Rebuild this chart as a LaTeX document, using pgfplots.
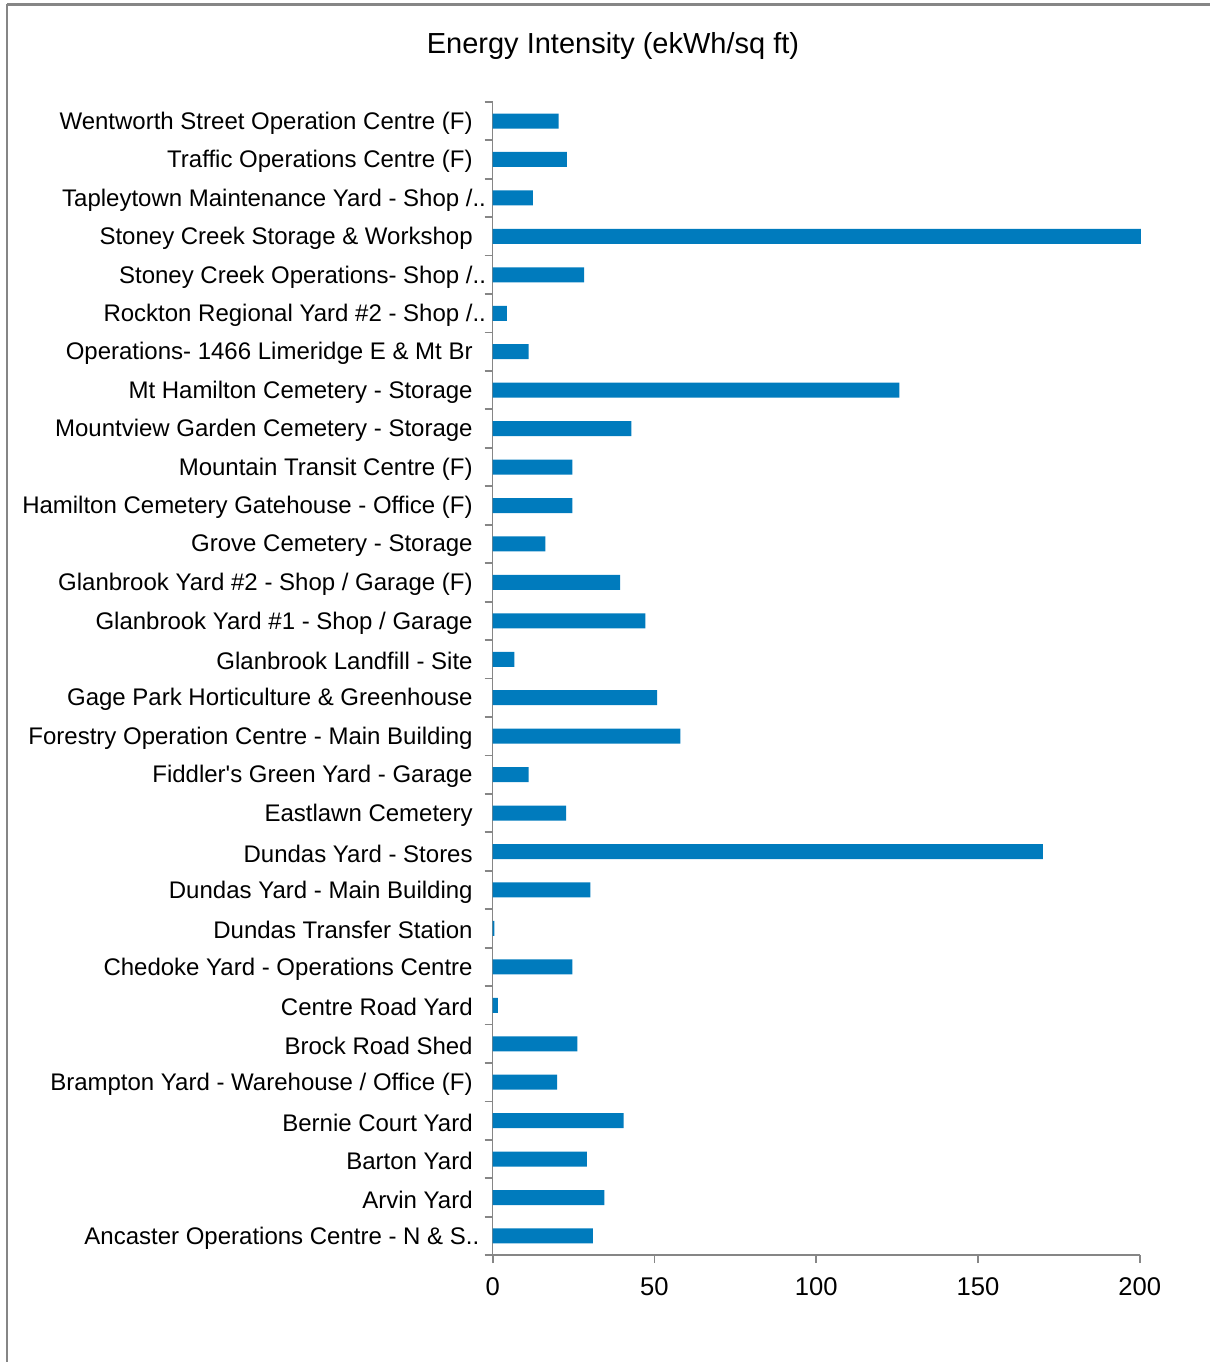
\documentclass[border=0pt]{standalone}
\usepackage{pgfplots}
\pgfplotsset{compat=1.18}
\usepackage{fontspec}
\setmainfont{Liberation Sans}
\definecolor{barblue}{RGB}{0,123,189}
\definecolor{axgray}{RGB}{134,134,134}
\begin{document}
\begin{tikzpicture}[x=1pt,y=1pt]
\path[use as bounding box] (0,0) rectangle (605,-681);
\draw[axgray, line width=1.2pt] (3.6,-2.2) -- (612,-2.2);
\draw[axgray, line width=1pt] (3.6,-2.2) -- (3.6,-690);
\node[font=\fontsize{14.5}{17}\selectfont] at (306.5,-23) {Energy Intensity (ekWh/sq ft)};
\begin{axis}[
  at={(246.35pt,-627.6pt)}, anchor=south west,
  scale only axis, width=323.5pt, height=576.7pt,
  xbar, bar width=7.5pt,
  xmin=0, xmax=200, ymin=-0.5, ymax=29.5,
  clip=false,
  axis x line*=bottom, axis y line*=left,
  axis line style={axgray, line width=0.8pt},
  tick align=outside,
  major tick length=4pt,
  every tick/.style={axgray, line width=0.9pt},
  xtick={0,50,100,150,200},
  xticklabel style={font=\fontsize{12.8}{15}\selectfont, yshift=-3.5pt},
  /pgf/number format/assume math mode=true,
  ytick={-0.5,0.5,1.5,2.5,3.5,4.5,5.5,6.5,7.5,8.5,9.5,10.5,11.5,12.5,13.5,14.5,15.5,16.5,17.5,18.5,19.5,20.5,21.5,22.5,23.5,24.5,25.5,26.5,27.5,28.5,29.5},
  yticklabels={},
  extra y ticks={0,...,29},
  extra y tick style={major tick length=0pt,
    yticklabel style={font=\fontsize{12}{14}\selectfont, xshift=-6.5pt, yshift=-1pt}},
  extra y tick labels={
    Ancaster Operations Centre - N \& S.\rlap{.},
    Arvin Yard,
    Barton Yard,
    Bernie Court Yard,
    Brampton Yard - Warehouse / Office (F),
    Brock Road Shed,
    Centre Road Yard,
    Chedoke Yard - Operations Centre,
    Dundas Transfer Station,
    Dundas Yard - Main Building,
    Dundas Yard - Stores,
    Eastlawn Cemetery,
    Fiddler\textquotesingle s Green Yard - Garage,
    Forestry Operation Centre - Main Building,
    Gage Park Horticulture \& Greenhouse,
    Glanbrook Landfill - Site,
    Glanbrook Yard \#1 - Shop / Garage,
    Glanbrook Yard \#2 - Shop / Garage (F),
    Grove Cemetery - Storage,
    Hamilton Cemetery Gatehouse - Office (F),
    Mountain Transit Centre (F),
    Mountview Garden Cemetery - Storage,
    Mt Hamilton Cemetery - Storage,
    Operations- 1466 Limeridge E \& Mt Br,
    Rockton Regional Yard \#2 - Shop /\rlap{..},
    Stoney Creek Operations- Shop /\rlap{..},
    Stoney Creek Storage \& Workshop,
    Tapleytown Maintenance Yard - Shop /\rlap{..},
    Traffic Operations Centre (F),
    Wentworth Street Operation Centre (F)
  },
]
\addplot[fill=barblue, draw=none] coordinates {
  (31.0,0) (34.5,1) (29.1,2) (40.5,3) (19.9,4) (26.2,5) (1.6,6) (24.6,7)
  (0.5,8) (30.2,9) (170.1,10) (22.7,11) (11.1,12) (58.0,13) (50.8,14)
  (6.7,15) (47.2,16) (39.4,17) (16.3,18) (24.6,19) (24.6,20) (42.9,21)
  (125.7,22) (11.1,23) (4.4,24) (28.3,25) (200.4,26) (12.4,27) (22.9,28) (20.4,29)
};
\end{axis}
\end{tikzpicture}
\end{document}
